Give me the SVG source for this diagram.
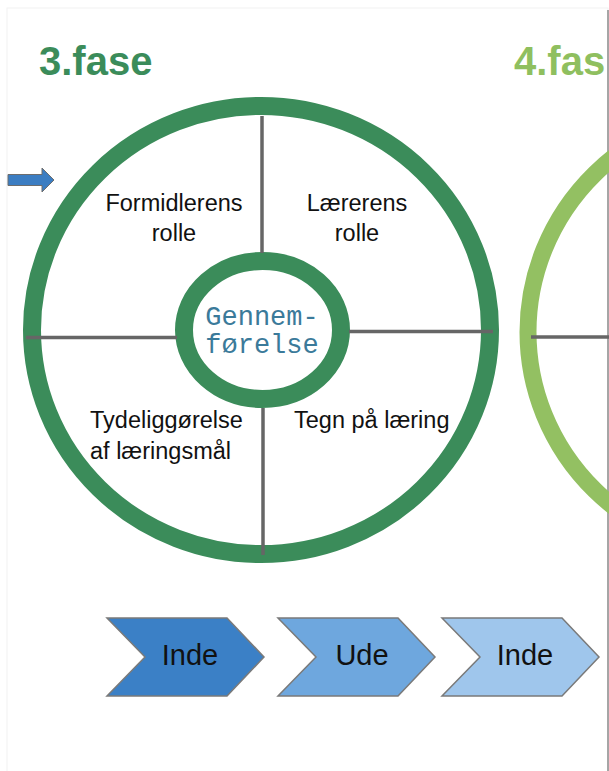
<svg xmlns="http://www.w3.org/2000/svg" width="609" height="771" viewBox="0 0 609 771">
  <style>
    .title { font-family: "Liberation Sans", Arial, sans-serif; font-weight: bold; font-size: 40px; }
    .quad { font-family: "Liberation Sans", Arial, sans-serif; font-size: 23.5px; fill: #111; }
    .core { font-family: "Liberation Mono", "DejaVu Sans Mono", monospace; font-size: 27px; fill: #3b7a9a; text-anchor: middle; }
    .step { font-family: "Liberation Sans", Arial, sans-serif; font-size: 29px; fill: #111; text-anchor: middle; }
    .divider { stroke: #666; stroke-width: 3.5; fill: none; }
    .chev { stroke: #7a7a7a; stroke-width: 1.5; }
  </style>
  <defs>
    <polygon id="chevron" points="0,0 120,0 157,39 120,78 0,78 38,39"/>
  </defs>

  <rect x="0" y="0" width="609" height="771" fill="#ffffff"/>
  <rect x="7" y="8" width="601" height="770" fill="none" stroke="#f2f2f2" stroke-width="1"/>
  <line x1="608" y1="10" x2="608" y2="771" stroke="#8a8a8a" stroke-width="1.5"/>

  <!-- phase 3 wheel -->
  <g id="phase3">
    <text class="title" x="39" y="75" fill="#3b8c5a">3.fase</text>
    <ellipse cx="261" cy="330" rx="229" ry="224" fill="none" stroke="#3b8c5a" stroke-width="18"/>
    <ellipse cx="262.5" cy="330" rx="78.5" ry="69" fill="none" stroke="#3b8c5a" stroke-width="18"/>
  </g>

  <!-- phase 4 wheel, partly off the page -->
  <g id="phase4">
    <text class="title" x="514" y="75" fill="#8fbf5f">4.fas</text>
    <ellipse cx="757" cy="332" rx="229" ry="224" fill="none" stroke="#93c062" stroke-width="17"/>
  </g>

  <!-- spokes -->
  <g id="connectors">
    <line class="divider" x1="262" y1="116" x2="262" y2="253"/>
    <line class="divider" x1="263" y1="408" x2="263" y2="555"/>
    <line class="divider" x1="26" y1="337.5" x2="177" y2="337.5"/>
    <line class="divider" x1="349" y1="331.5" x2="493" y2="331.5"/>
    <line class="divider" x1="531" y1="337" x2="609" y2="337"/>
    <polygon points="8,174.5 42,174.5 42,168 54,180 42,192 42,185.5 8,185.5" fill="#3b7dc2" stroke="#6d6d6d" stroke-width="1"/>
  </g>

  <g id="core">
    <text class="core" x="262" y="325">Gennem-</text>
    <text class="core" x="262" y="353">førelse</text>
  </g>

  <g id="q-formidler">
    <text class="quad" x="174" y="211" text-anchor="middle">Formidlerens</text>
    <text class="quad" x="174" y="241" text-anchor="middle">rolle</text>
  </g>
  <g id="q-laerer">
    <text class="quad" x="357" y="211" text-anchor="middle">Lærerens</text>
    <text class="quad" x="357" y="241" text-anchor="middle">rolle</text>
  </g>
  <g id="q-tydelig">
    <text class="quad" x="90" y="428">Tydeliggørelse</text>
    <text class="quad" x="90" y="459">af læringsmål</text>
  </g>
  <g id="q-tegn">
    <text class="quad" x="294" y="428">Tegn på læring</text>
  </g>

  <!-- inde / ude sequence -->
  <g id="step1">
    <use href="#chevron" x="107" y="618" fill="#3b80c6" class="chev"/>
    <text class="step" x="190" y="665">Inde</text>
  </g>
  <g id="step2">
    <use href="#chevron" x="278" y="618" fill="#6ea7de" class="chev"/>
    <text class="step" x="362" y="665">Ude</text>
  </g>
  <g id="step3">
    <use href="#chevron" x="442" y="618" fill="#9fc6ec" class="chev"/>
    <text class="step" x="525" y="665">Inde</text>
  </g>
</svg>
